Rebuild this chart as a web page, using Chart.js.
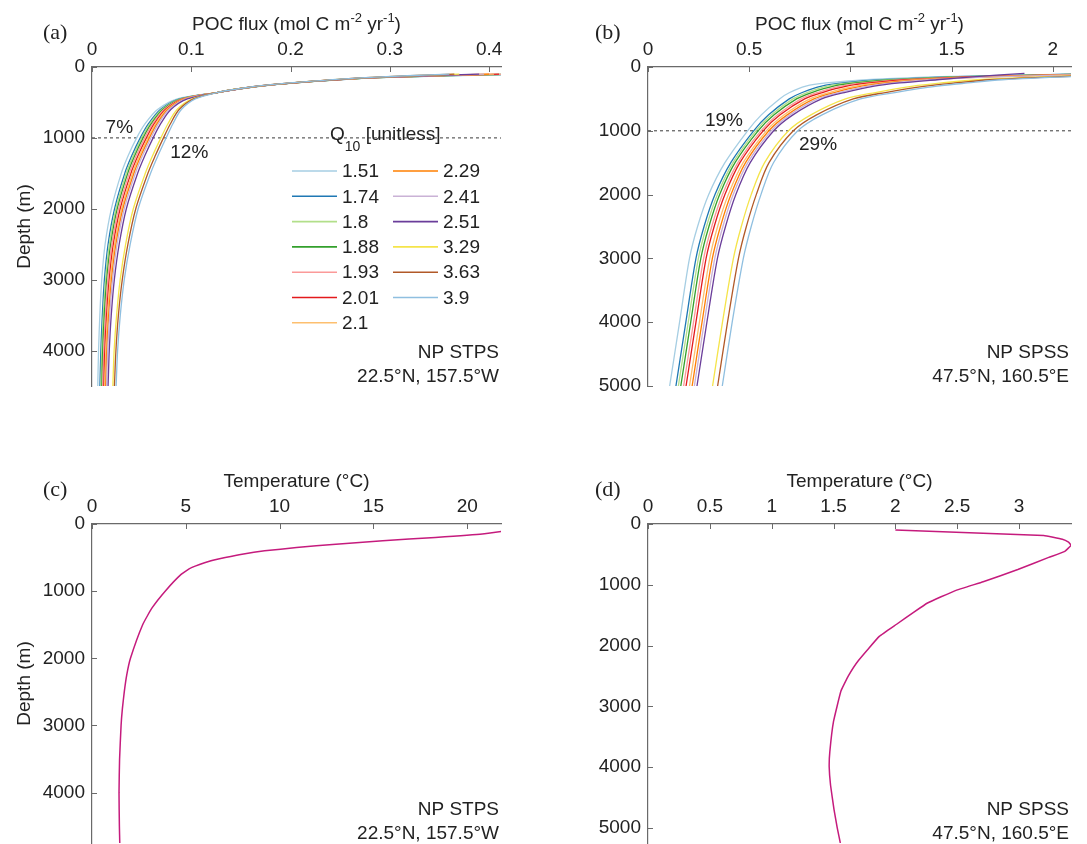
<!DOCTYPE html>
<html><head><meta charset="utf-8">
<script src="https://cdn.jsdelivr.net/npm/chart.js@4.4.1/dist/chart.umd.min.js"></script>
<style>
html,body{margin:0;padding:0;background:#fff;overflow:hidden;width:1087px;height:844px;}
canvas{position:absolute;}
</style></head><body>
<canvas id="ca"></canvas><canvas id="cb"></canvas><canvas id="cc"></canvas><canvas id="cd"></canvas>
<script>
// ---------- categories ----------
const Q10 = ['1.51','1.74','1.8','1.88','1.93','2.01','2.1','2.29','2.41','2.51','3.29','3.63','3.9'];

// ---------- tick labels ----------
const X_TICKS_A = [0, 0.1, 0.2, 0.3, 0.4];
const X_TICKS_B = [0, 0.5, 1, 1.5, 2];
const X_TICKS_C = [0, 5, 10, 15, 20];
const X_TICKS_D = [0, 0.5, 1, 1.5, 2, 2.5, 3];
const Y_TICKS_A = [0, 1000, 2000, 3000, 4000];
const Y_TICKS_B = [0, 1000, 2000, 3000, 4000, 5000];
const Y_TICKS_C = [0, 1000, 2000, 3000, 4000];
const Y_TICKS_D = [0, 1000, 2000, 3000, 4000, 5000];

// ---------- panel (a) POC flux, NP STPS ----------
const DEPTH_A = [100,150,200,250,300,360,450,600,800,1000,1250,1500,2000,2500,3000,3500,4000,4500];
const fluxA_151 = [0.45,0.290,0.228,0.184,0.153,0.126,0.086,0.066,0.0535,0.045,0.0365,0.0295,0.0195,0.0132,0.0098,0.0079,0.0066,0.0058];
const fluxA_174 = [0.435,0.288,0.227,0.184,0.153,0.126,0.0882,0.0689,0.0569,0.0486,0.0401,0.0330,0.0227,0.0162,0.0125,0.0104,0.0089,0.0080];
const fluxA_180 = [0.43,0.288,0.227,0.183,0.153,0.126,0.0891,0.0701,0.0583,0.0500,0.0416,0.0345,0.0241,0.0175,0.0137,0.0114,0.0099,0.0089];
const fluxA_188 = [0.425,0.287,0.227,0.183,0.152,0.126,0.0900,0.0713,0.0597,0.0515,0.0431,0.0360,0.0254,0.0188,0.0148,0.0124,0.0108,0.0099];
const fluxA_193 = [0.42,0.286,0.226,0.183,0.152,0.126,0.0909,0.0725,0.0611,0.0530,0.0446,0.0375,0.0268,0.0200,0.0159,0.0135,0.0118,0.0108];
const fluxA_201 = [0.41,0.285,0.226,0.183,0.152,0.126,0.0919,0.0739,0.0627,0.0548,0.0464,0.0392,0.0284,0.0215,0.0173,0.0147,0.0129,0.0119];
const fluxA_210 = [0.405,0.284,0.226,0.182,0.152,0.126,0.0928,0.0751,0.0641,0.0563,0.0479,0.0407,0.0298,0.0228,0.0184,0.0157,0.0139,0.0128];
const fluxA_229 = [0.40,0.283,0.225,0.182,0.152,0.126,0.0937,0.0763,0.0655,0.0578,0.0494,0.0422,0.0311,0.0241,0.0196,0.0168,0.0149,0.0138];
const fluxA_241 = [0.395,0.283,0.225,0.182,0.152,0.126,0.0946,0.0775,0.0669,0.0593,0.0509,0.0437,0.0325,0.0253,0.0207,0.0178,0.0158,0.0147];
const fluxA_251 = [0.39,0.282,0.225,0.182,0.152,0.126,0.0961,0.0794,0.0692,0.0616,0.0533,0.0460,0.0346,0.0274,0.0225,0.0194,0.0174,0.0162];
const fluxA_329 = [0.37,0.278,0.223,0.181,0.151,0.126,0.1008,0.0857,0.0765,0.0694,0.0611,0.0537,0.0416,0.0339,0.0284,0.0248,0.0223,0.0210];
const fluxA_363 = [0.365,0.276,0.223,0.180,0.151,0.126,0.1024,0.0878,0.0790,0.0720,0.0638,0.0563,0.0441,0.0362,0.0305,0.0266,0.0241,0.0226];
const fluxA_390 = [0.36,0.275,0.222,0.180,0.151,0.126,0.104,0.090,0.0815,0.0747,0.0665,0.059,0.0465,0.0385,0.0325,0.0285,0.0258,0.0243];

// ---------- panel (b) POC flux, NP SPSS ----------
const DEPTH_B = [100,150,200,250,300,400,500,750,1000,1500,2000,2500,3000,4000,5000];
const fluxB_151 = [2.30,1.45,1.08,0.88,0.78,0.70,0.65,0.56,0.492,0.38,0.30,0.245,0.205,0.156,0.107];
const fluxB_174 = [2.336,1.528,1.160,0.964,0.858,0.762,0.698,0.596,0.522,0.409,0.331,0.277,0.237,0.187,0.138];
const fluxB_180 = [2.35,1.557,1.191,0.996,0.887,0.786,0.716,0.610,0.533,0.420,0.343,0.289,0.249,0.199,0.150];
const fluxB_188 = [2.363,1.587,1.221,1.027,0.917,0.809,0.734,0.623,0.544,0.430,0.354,0.301,0.261,0.211,0.162];
const fluxB_193 = [2.38,1.622,1.258,1.066,0.952,0.838,0.756,0.640,0.558,0.444,0.368,0.315,0.275,0.225,0.176];
const fluxB_201 = [2.393,1.652,1.288,1.097,0.982,0.861,0.774,0.653,0.569,0.454,0.380,0.327,0.287,0.237,0.188];
const fluxB_210 = [2.413,1.694,1.331,1.143,1.024,0.895,0.80,0.673,0.585,0.470,0.397,0.344,0.305,0.254,0.205];
const fluxB_229 = [2.428,1.726,1.365,1.178,1.056,0.921,0.82,0.688,0.597,0.482,0.410,0.358,0.318,0.267,0.218];
const fluxB_241 = [2.441,1.756,1.395,1.209,1.086,0.944,0.838,0.701,0.609,0.493,0.421,0.370,0.330,0.278,0.229];
const fluxB_251 = [1.86,1.62,1.428,1.244,1.118,0.970,0.858,0.716,0.621,0.505,0.434,0.383,0.343,0.291,0.242];
const fluxB_329 = [2.545,1.980,1.626,1.451,1.310,1.124,0.976,0.805,0.694,0.576,0.510,0.461,0.422,0.368,0.319];
const fluxB_363 = [2.573,2.042,1.690,1.517,1.372,1.173,1.014,0.833,0.718,0.598,0.535,0.486,0.447,0.393,0.344];
const fluxB_390 = [2.60,2.10,1.75,1.58,1.43,1.22,1.05,0.86,0.74,0.62,0.558,0.51,0.471,0.416,0.367];

// ---------- panel (c) temperature, NP STPS ----------
const DEPTH_C = [100,150,200,250,300,350,400,450,500,550,650,750,1000,1250,1500,2000,2250,2500,2750,3000,3500,4000,4500,4750];
const TEMP_C  = [22.1,20.8,18.3,15.5,13.0,10.9,9.2,8.0,7.1,6.3,5.3,4.75,3.9,3.2,2.7,2.05,1.85,1.72,1.62,1.55,1.47,1.44,1.46,1.48];

// ---------- panel (d) temperature, NP SPSS ----------
const DEPTH_D = [100,190,250,300,350,450,550,750,950,1100,1300,1450,1650,1850,2250,2500,2750,3250,3750,4000,4300,4700,5000,5250];
const TEMP_D  = [2.0,3.2,3.35,3.40,3.42,3.37,3.24,2.99,2.71,2.48,2.26,2.15,2.01,1.87,1.70,1.62,1.56,1.50,1.47,1.465,1.476,1.504,1.53,1.555];

const FLUX_A = [fluxA_151,fluxA_174,fluxA_180,fluxA_188,fluxA_193,fluxA_201,fluxA_210,fluxA_229,fluxA_241,fluxA_251,fluxA_329,fluxA_363,fluxA_390];
const FLUX_B = [fluxB_151,fluxB_174,fluxB_180,fluxB_188,fluxB_193,fluxB_201,fluxB_210,fluxB_229,fluxB_241,fluxB_251,fluxB_329,fluxB_363,fluxB_390];

// ---------- styles ----------
const COLORS = ['#a6cee3','#1f78b4','#b2df8a','#33a02c','#fb9a99','#e31a1c','#fdbf6f','#ff7f00','#cab2d6','#6a3d9a','#f5e44a','#b15928','#8fbfe0'];
const TEMP_COLOR = '#c51b7d';
const FONT = '"Liberation Sans", Arial, Helvetica, sans-serif';
const SERIF = '"Liberation Serif", "Times New Roman", serif';
const TXT = '#222222';
const AXIS = '#6a6a6a';
const FS = 19;

function pts(xs, ys) { return xs.map((v, i) => ({x: v, y: ys[i]})); }

function fluxDatasets(series, depths, xmax) {
  const ds = series.map((vals, i) => ({
    label: Q10[i], isSeries: true, data: pts(vals, depths), showLine: true,
    borderColor: COLORS[i], backgroundColor: COLORS[i], borderWidth: 1.3,
    pointRadius: 0, tension: 0.3, order: Q10.length - i
  }));
  ds.push({label: '', isSeries: false, data: [{x: 0, y: 1000}, {x: xmax, y: 1000}], showLine: true,
    borderColor: '#3a3a3a', borderWidth: 1, borderDash: [3, 3], pointRadius: 0, order: 100});
  return ds;
}

function segFont(s) { return (s.sup ? 13 : s.sub ? 14 : FS) + 'px ' + FONT; }
function richWidth(ctx, segs) {
  let w = 0;
  segs.forEach(s => { ctx.font = segFont(s); w += ctx.measureText(s.t).width; });
  return w;
}
function drawRich(ctx, segs, x, y) {
  segs.forEach(s => {
    ctx.font = segFont(s);
    ctx.fillText(s.t, x, y + (s.sup ? -8 : s.sub ? 11 : 0));
    x += ctx.measureText(s.t).width;
  });
}

function makeDeco(cfg) {
  return {
    id: 'deco' + cfg.letter,
    afterDatasetsDraw(chart) {
      const ctx = chart.ctx, a = chart.chartArea, xs = chart.scales.x, ys = chart.scales.y;
      ctx.save();
      // inward tick marks
      ctx.strokeStyle = AXIS; ctx.lineWidth = 1;
      xs.ticks.forEach(t => { const p = Math.round(xs.getPixelForValue(t.value)) + 0.5;
        ctx.beginPath(); ctx.moveTo(p, a.top); ctx.lineTo(p, a.top + 5); ctx.stroke(); });
      ys.ticks.forEach(t => { const p = Math.round(ys.getPixelForValue(t.value)) + 0.5;
        ctx.beginPath(); ctx.moveTo(a.left, p); ctx.lineTo(a.left + 5, p); ctx.stroke(); });
      ctx.fillStyle = TXT;
      ctx.textBaseline = 'alphabetic';
      ctx.textAlign = 'left';
      // x title
      const w = richWidth(ctx, cfg.xTitle);
      drawRich(ctx, cfg.xTitle, (a.left + a.right) / 2 - w / 2, a.top - 37);
      // panel letter
      ctx.font = '22px ' + SERIF;
      ctx.fillText(cfg.letter, cfg.letterX, a.top - 28);
      // y title
      if (cfg.yTitle) {
        ctx.save();
        ctx.translate(25, (a.top + a.bottom) / 2);
        ctx.rotate(-Math.PI / 2);
        ctx.font = FS + 'px ' + FONT; ctx.textAlign = 'center'; ctx.textBaseline = 'middle';
        ctx.fillText(cfg.yTitle, 0, 0);
        ctx.restore();
      }
      // location text
      ctx.font = FS + 'px ' + FONT; ctx.textAlign = 'right';
      ctx.fillText(cfg.loc[0], a.right - 2, a.bottom - 28);
      ctx.fillText(cfg.loc[1], a.right - 2, a.bottom - 4.5);
      // percentage notes (placed in data coordinates)
      ctx.textAlign = 'center'; ctx.textBaseline = 'middle';
      (cfg.notes || []).forEach(n => ctx.fillText(n.t, xs.getPixelForValue(n.x), ys.getPixelForValue(n.y)));
      // legend
      if (cfg.legend) {
        const ser = chart.data.datasets.filter(d => d.isSeries);
        ctx.textAlign = 'left'; ctx.textBaseline = 'alphabetic';
        drawRich(ctx, [{t: 'Q'}, {t: '10', sub: true}, {t: ' [unitless]'}], a.left + 238, a.top + 73);
        const rows = 7;
        ser.forEach((d, i) => {
          const col = Math.floor(i / rows), row = i % rows;
          const y = a.top + 104 + row * 25.3;
          const x0 = a.left + 200 + col * 101;
          ctx.strokeStyle = d.borderColor; ctx.lineWidth = 1.6;
          ctx.beginPath(); ctx.moveTo(x0, y); ctx.lineTo(x0 + 45, y); ctx.stroke();
          ctx.font = FS + 'px ' + FONT; ctx.fillStyle = TXT; ctx.textBaseline = 'middle';
          ctx.fillText(d.label, x0 + 50, y + 1);
        });
      }
      ctx.restore();
    }
  };
}

function makeChart(id, box, plot, xr, yr, xTicks, yTicks, datasets, deco) {
  const cv = document.getElementById(id);
  cv.style.left = box[0] + 'px'; cv.style.top = box[1] + 'px';
  cv.width = box[2]; cv.height = box[3];
  cv.style.width = box[2] + 'px'; cv.style.height = box[3] + 'px';
  const yW = plot.L - box[0], xH = plot.T - box[1];
  const padR = box[0] + box[2] - plot.R, padB = box[1] + box[3] - plot.B;
  const tickFont = {family: FONT, size: FS};
  return new Chart(cv, {
    type: 'scatter',
    data: {datasets},
    options: {
      responsive: false, animation: false, devicePixelRatio: 1,
      layout: {padding: {left: 0, top: 0, right: padR, bottom: padB}},
      plugins: {legend: {display: false}, tooltip: {enabled: false}},
      elements: {point: {radius: 0}, line: {capBezierPoints: false}},
      scales: {
        x: {type: 'linear', position: 'top', min: xr[0], max: xr[1],
          afterBuildTicks: s => { s.ticks = xTicks.map(v => ({value: v})); },
          afterFit: s => { s.height = xH; },
          grid: {display: true, drawOnChartArea: false, drawTicks: false},
          border: {display: true, color: AXIS, width: 1.2},
          ticks: {color: TXT, font: tickFont, padding: 6, maxRotation: 0, autoSkip: false, callback: v => String(v)}},
        y: {type: 'linear', position: 'left', reverse: true, min: yr[0], max: yr[1],
          afterBuildTicks: s => { s.ticks = yTicks.map(v => ({value: v})); },
          afterFit: s => { s.width = yW; },
          grid: {display: true, drawOnChartArea: false, drawTicks: false},
          border: {display: true, color: AXIS, width: 1.2},
          ticks: {color: TXT, font: tickFont, padding: 7, autoSkip: false, callback: v => String(v)}}
      }
    },
    plugins: [deco]
  });
}

const POC_TITLE = [{t: 'POC flux (mol C m'}, {t: '-2', sup: true}, {t: ' yr'}, {t: '-1', sup: true}, {t: ')'}];
const TEMP_TITLE = [{t: 'Temperature (°C)'}];

makeChart('ca', [0, 0, 545, 430], {L: 92, T: 67, R: 501, B: 386}, [0, 0.412], [0, 4500], X_TICKS_A, Y_TICKS_A,
  fluxDatasets(FLUX_A, DEPTH_A, 0.412),
  makeDeco({letter: '(a)', letterX: 43, xTitle: POC_TITLE, yTitle: 'Depth (m)', loc: ['NP STPS', '22.5°N, 157.5°W'],
    notes: [{t: '7%', x: 0.0275, y: 860}, {t: '12%', x: 0.098, y: 1210}], legend: true}));

makeChart('cb', [545, 0, 542, 430], {L: 648, T: 67, R: 1071, B: 386}, [0, 2.09], [0, 5000], X_TICKS_B, Y_TICKS_B,
  fluxDatasets(FLUX_B, DEPTH_B, 2.09),
  makeDeco({letter: '(b)', letterX: 50, xTitle: POC_TITLE, yTitle: null, loc: ['NP SPSS', '47.5°N, 160.5°E'],
    notes: [{t: '19%', x: 0.375, y: 840}, {t: '29%', x: 0.84, y: 1215}], legend: false}));

makeChart('cc', [0, 430, 545, 445], {L: 92, T: 524, R: 501, B: 843}, [0, 21.8], [0, 4750], X_TICKS_C, Y_TICKS_C,
  [{label: 'T', data: pts(TEMP_C, DEPTH_C), showLine: true, borderColor: TEMP_COLOR, borderWidth: 1.5, pointRadius: 0, tension: 0.15}],
  makeDeco({letter: '(c)', letterX: 43, xTitle: TEMP_TITLE, yTitle: 'Depth (m)', loc: ['NP STPS', '22.5°N, 157.5°W'], legend: false}));

makeChart('cd', [545, 430, 542, 445], {L: 648, T: 524, R: 1071, B: 843}, [0, 3.42], [0, 5250], X_TICKS_D, Y_TICKS_D,
  [{label: 'T', data: pts(TEMP_D, DEPTH_D), showLine: true, borderColor: TEMP_COLOR, borderWidth: 1.5, pointRadius: 0, tension: 0.1}],
  makeDeco({letter: '(d)', letterX: 50, xTitle: TEMP_TITLE, yTitle: null, loc: ['NP SPSS', '47.5°N, 160.5°E'], legend: false}));
</script>
</body></html>
